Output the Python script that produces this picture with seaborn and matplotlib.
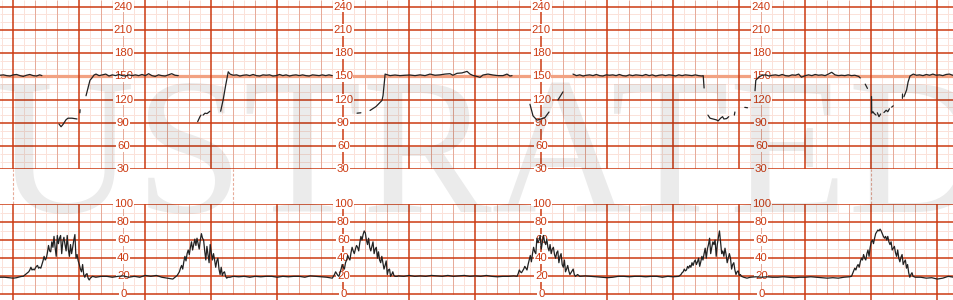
import numpy as np
import pandas as pd
import matplotlib
matplotlib.use("Agg")
import matplotlib.pyplot as plt
import seaborn as sns

# ---------------- data (time in seconds) ----------------
nan = np.nan
fhr_t = [-12, -9, -6, -3, 0, 3, 6, 9, 12, 15, 18, 21, 24, 26, nan,
         41.5, 43.4, 45.2, 47.9, 49.7, 53.4, 57.9, nan,
         60.5, 60.7, nan,
         66.1, 67.9, 69.7, 71.5, 73.4, 75.2, 78, 81, 84, 87, 90, 93, 96, 99, 102, 105, 108,
         111, 114, 117, 120, 123, 126, 129, 132, 135, 138, 141, 144, 147, 150, nan,
         167.6, 169.7, 170.6, nan,
         172.5, 174.3, 176.1, 178.8, nan,
         188.5, 190.8, 193, 195.4, 197, 200, 203, 206, 209, 212, 215, 218, 221, 224, 227, 230,
         233, 236, 239, 242, 245, 248, 251, 254, 257, 260, 263, 266, 269, 272, 275, 278, 281,
         284, 287, 290, nan,
         312.5, 316, nan,
         324.3, 329.7, 335.2, 336.1, 337.5, 338, 342.5, 347, 351.5, 356.1, 360.6, 365.2, 369.7,
         374.3, 378.8, 383.4, 387.9, 392.5, 397, 399.7, 403.4, 407.9, 412.5, 415.2, 417.9,
         421.5, 424.3, 427, 431.5, 436.1, 440.6, 445.2, 448.8, 451.5, 453.4, nan,
         469.7, 472.5, 476.1, 479.7, 483.4, 487, nan,
         495.2, 499.7, nan,
         508.8, 512, 515, 518, 521, 524, 527, 530, 533, 536, 539, 542, 545, 548, 551, 554, 557,
         560, 563, 566, 569, 572, 575, 578, 581, 584, 587, 590, 593, 596, 599, 602, 605, 608,
         611, 614, 617, 620, 623, 626, 627.2, 628, nan,
         631.5, 633.4, 636.1, 639.3, 640.8, 643, 644.8, 646, 648.5, 650.4, nan,
         655.5, 656, nan,
         665, 667.5, nan,
         674.3, 675, 678, 681, 684, 687, 690, 693, 696, 699, 702, 705, 708, 711, 714, 716.5,
         720, 723, 726, 729, 732, 735, 738, 741, 744, 747, 750, 753, 756, 759, 762, 765,
         768.5, 770, nan,
         774.5, 776.5, nan,
         780.2, 780.4, 781.5, 782.5, 784.3, nan,
         785.5, 787, 788.5, nan,
         791.5, 793.5, 795, 796.5, nan,
         798.5, 800, nan,
         808.3, 808.4, nan,
         809.7, 812.1, 813.5, 815.2, 818.2, 821, 824, 827, 830, 833, 836, 839, 842, 845, 848,
         851, 854, 856]
fhr_bpm = [151.5, 152, 151, 150.5, 152, 152.5, 151, 150, 151.5, 152.5, 151, 150.5, 152, 151, nan,
           88.5, 85, 88, 94, 96, 96, 95, nan,
           103, 107, nan,
           125, 135, 145, 148, 151.8, 153, 151, 152, 153, 150.5, 152, 151, 152.5, 151, 150.5, 152,
           151, 152, 151, 152.5, 151, 153.5, 151, 150, 152, 151, 150.5, 152, 153.5, 151.5, 151, nan,
           91.5, 98, 100, nan,
           100, 102.5, 102, 105, nan,
           105, 120, 138, 156, 153, 151.5, 152, 150.5, 151.5, 152, 151, 152.5, 151, 150.5, 152,
           151.5, 152, 150.5, 151, 152.5, 151, 152, 150.5, 151.5, 152, 151, 152, 151, 150.5, 152,
           151.5, 151, 152, 151, 152, 151, nan,
           102.5, 103, nan,
           106, 111, 119, 125, 145, 153, 151, 151.8, 151, 151.5, 151.8, 151, 152, 151, 153, 151.5,
           152, 153, 153.5, 151.5, 154, 154.5, 156.5, 153, 151.2, 150, 148.8, 151.8, 153, 151.8,
           151, 151, 153, 150.5, 151, nan,
           114, 99, 93.5, 95, 97, 104, nan,
           119.6, 130, nan,
           153, 151, 152, 150.5, 151.5, 152, 151, 152.5, 151, 150.5, 152, 151.5, 152, 151, 152.5,
           151, 150.5, 152, 151, 152, 151.5, 151, 152.5, 151, 152, 150.5, 151.5, 152, 151, 152,
           151.5, 150.5, 152, 151, 152, 151.5, 151, 152, 151, 150.5, 151, 135, nan,
           100, 96, 95, 93.8, 92.5, 96, 98, 95, 95.5, 98, nan,
           100, 104, nan,
           110, 109.5, nan,
           131.5, 145, 149.5, 151.5, 152, 150.5, 151.5, 152, 151, 152.5, 151, 150.5, 152, 151.5,
           153, 149, 151, 152, 151, 152.5, 151.5, 152, 151, 153, 155.3, 152, 151, 151.5, 151,
           152, 151, 151.5, 150, 148, nan,
           140, 134.5, nan,
           124, 102.5, 104.4, 102.3, 100.1, nan,
           103, 98, 101.5, nan,
           103.3, 106.3, 104.4, 108.2, nan,
           110.3, 112, nan,
           121.6, 127.3, nan,
           123.8, 132.4, 143, 150.5, 153, 151.5, 152, 151, 152.5, 151.5, 153, 151.5, 152, 151,
           152.5, 153, 151.5, 152]

toco_t = [-12, -8, -4, 0, 3, 6,
          8, 9, 10, 11, 12, 13, 14, 15, 16, 17, 18, 19, 20, 21, 22, 23, 24, 25, 26, 27, 28, 29,
          30, 31, 32, 33, 34, 35, 36, 37, 38, 39, 40, 41, 42, 43, 44, 45, 46, 47, 48, 49, 50,
          51, 52, 53, 54, 55, 56, 57, 58, 59, 60, 61, 62, 63, 64, 65, 66, 67, 68, 69, 70, 71, 72,
          75, 80, 85, 90, 95, 100, 105, 110, 115, 120, 125, 130, 135, 140, 145,
          146, 147, 148, 149, 150, 151, 152, 153, 154, 155, 156, 157, 158, 159, 160, 161, 162,
          163, 164, 165, 166, 167, 168, 169, 170, 171, 172, 173, 174, 175, 176, 177, 178, 179,
          180, 181, 182, 183, 184, 185, 186, 187, 188, 189, 190, 191, 192, 193, 194, 195, 197,
          200, 205, 210, 215, 220, 225, 230, 235, 240, 245, 250, 255, 260, 265, 270, 275, 280,
          285, 290,
          291, 292, 293, 294, 295, 296, 297, 298, 299, 300, 301, 302, 303, 304, 305, 306, 307,
          308, 309, 310, 311, 312, 313, 314, 315, 316, 317, 318, 319, 320, 321, 322, 323, 324,
          325, 326, 327, 328, 329, 330, 331, 332, 333, 334, 335, 336, 337, 338, 339, 340, 341,
          342, 343, 344, 345, 346, 347, 349,
          350, 355, 360, 365, 370, 375, 380, 385, 390, 395, 400, 405, 410, 415, 420, 425, 430,
          435, 440, 445, 450, 455,
          458, 459, 460, 461, 462, 463, 464, 465, 466, 467, 468, 469, 470, 471, 472, 473, 474,
          475, 476, 477, 478, 479, 480, 481, 482, 483, 484, 485, 486, 487, 488, 489, 490, 491,
          492, 493, 494, 495, 496, 497, 498, 499, 500, 501, 502, 503, 504, 505, 506, 507, 508,
          509, 510, 511, 512, 513, 515,
          520, 525, 530, 535, 540, 545, 550, 555, 560, 565, 570, 575, 580, 585, 590, 595, 600, 605,
          606, 607, 608, 609, 610, 611, 612, 613, 614, 615, 616, 617, 618, 619, 620, 621, 622,
          623, 624, 625, 626, 627, 628, 629, 630, 631, 632, 633, 634, 635, 636, 637, 638, 639,
          640, 641, 642, 643, 644, 645, 646, 647, 648, 649, 650, 651, 652, 653, 654, 655, 656,
          657, 658, 659, 660, 661, 662, 664, 667,
          670, 675, 680, 685, 690, 695, 700, 705, 710, 715, 720, 725, 730, 735, 740, 745, 750,
          755, 760,
          762, 763, 764, 765, 766, 767, 768, 769, 770, 771, 772, 773, 774, 775, 776, 777, 778,
          779, 780, 781, 782, 783, 784, 785, 786, 787, 788, 789, 790, 791, 792, 793, 794, 795,
          796, 797, 798, 799, 800, 801, 802, 803, 804, 805, 806, 807, 808, 809, 810, 811, 812,
          813, 814, 815, 816, 817, 818, 820,
          825, 830, 835, 840, 845, 850, 855]
toco_v = [19, 19, 18.5, 18, 18.5, 19.5,
          20, 20, 21, 22, 23, 24, 25, 27, 30, 27, 28, 27, 29, 31, 32, 29, 30, 29, 33, 37, 42, 38,
          40, 46, 54, 48, 47, 58, 52, 64, 52, 42, 65, 56, 62, 65, 45, 58, 63, 55, 48, 65, 50,
          42, 55, 45, 52, 60, 66, 40, 44, 37, 33, 28, 25, 33, 22, 19, 22, 23, 18, 16, 18, 19, 20,
          19, 20, 20, 19, 20, 20.5, 19, 20, 19, 21, 20, 21, 19, 18, 17,
          18, 19, 20, 21, 23, 25, 29, 32, 28, 36, 42, 37, 45, 49, 44, 52, 58,
          49, 55, 61, 54, 62, 56, 50, 60, 67, 62, 60, 48, 38, 53, 44, 35, 55,
          46, 38, 45, 38, 30, 37, 40, 28, 22, 30, 21, 24, 25, 20, 18, 19, 19,
          20, 19.5, 20, 19, 20, 19.5, 20, 20, 19, 20, 19.5, 20, 20, 19, 20.5, 20, 19.5,
          19, 18,
          20, 22, 25, 23, 21, 20, 24, 28, 33, 30, 28, 35, 38, 43, 40, 38, 46,
          52, 48, 45, 50, 54, 52, 48, 57, 64, 60, 66, 70, 68, 60, 55, 62, 52,
          48, 53, 58, 45, 50, 52, 40, 47, 38, 35, 42, 35, 28, 32, 37, 22, 27,
          28, 20, 22, 25, 21, 20, 20,
          20.5, 20, 21, 20, 20.5, 20, 21, 20.5, 20, 21, 20, 20.5, 21, 20, 20.5, 20, 21,
          20, 19.5, 20, 20, 20.5,
          20, 23, 27, 25, 24, 26, 28, 31, 29, 27, 33, 38, 43, 36, 45, 52, 47,
          45, 62, 57, 60, 65, 50, 58, 65, 58, 55, 61, 52, 48, 55, 45, 50, 52,
          44, 40, 46, 48, 35, 42, 45, 33, 30, 38, 25, 28, 32, 26, 22, 24, 26,
          28, 22, 20, 21, 22, 20,
          20.5, 20, 19.5, 19, 18.5, 19, 20, 20, 19.5, 20, 20, 19.5, 20, 20, 19, 20, 19.5, 20,
          21, 22, 24, 25, 28, 26, 27, 31, 29, 32, 30, 35, 32, 36, 38, 33, 36,
          40, 31, 36, 42, 38, 45, 51, 40, 50, 55, 62, 45, 52, 58, 55, 60, 42,
          55, 63, 70, 58, 45, 48, 42, 51, 44, 35, 40, 45, 40, 28, 33, 35, 27,
          22, 25, 26, 21, 22, 20, 19, 18,
          19, 19.5, 19, 19.5, 19, 19, 19.5, 19, 18.5, 19, 19, 19.5, 19, 18.5, 18, 18.5, 18,
          19, 19.5,
          20, 23, 26, 29, 27, 31, 33, 30, 36, 40, 38, 44, 40, 38, 45, 49, 42,
          52, 58, 60, 56, 62, 67, 69, 71, 70, 72, 70, 67, 64, 62, 64, 60, 64,
          58, 55, 58, 49, 51, 53, 46, 42, 49, 40, 36, 41, 44, 33, 36, 38, 29,
          33, 24, 19, 22, 24, 20, 19,
          19, 18, 18.5, 17, 18, 20, 19]

label_t = [100, 300, 480, 680]
fhr_labels = [30, 60, 90, 120, 150, 180, 210, 240]
toco_labels = [0, 20, 40, 60, 80, 100]
gap_marks_t = [0, 200, 780]
watermark = "ILLUSTRATED"

# ---------------- style ----------------
sns.set_theme(style="white")
plt.rcParams["font.family"] = ["Liberation Sans", "DejaVu Sans"]

DARK = "#cc3a12"
MED = "#e6ab9a"
LIGHT = "#fbe2da"
HL150 = "#f2a282"
TRACE = "#222222"

T0, T1 = -12.1, 855.2
FHR_LO, FHR_HI = 30, 248.7
TOCO_LO, TOCO_HI = -6.06, 100

fig = plt.figure(figsize=(9.54, 3.0), dpi=100)
fig.patch.set_facecolor("white")
fhr_rect = [0, 130.7 / 300, 1, 169.3 / 300]
toco_rect = [0, 0, 1, 96.3 / 300]
gap_rect = [0, 96.3 / 300, 1, 34.4 / 300]

ax_f = fig.add_axes(fhr_rect, zorder=0)
ax_t = fig.add_axes(toco_rect, zorder=0)
ax_g = fig.add_axes(gap_rect, zorder=0)
for ax in (ax_f, ax_t, ax_g):
    ax.set_axis_off()
    ax.set_xlim(T0, T1)
ax_f.set_ylim(FHR_LO, FHR_HI)
ax_t.set_ylim(TOCO_LO, TOCO_HI)
ax_g.set_ylim(0, 1)

vt = np.arange(-10, 860, 10)
v_major = vt[vt % 60 == 0]
v_med = vt[(vt % 20 == 0) & (vt % 60 != 0)]
v_light = vt[vt % 20 != 0]

LW_L, LW_M, LW_D = 0.72, 0.72, 1.1

# FHR grid
hf = np.arange(40, 250, 10)
ax_f.vlines(v_light, FHR_LO, FHR_HI, color=LIGHT, lw=LW_L, zorder=1)
ax_f.hlines(hf[hf % 30 != 0], T0, T1, color=LIGHT, lw=LW_L, zorder=1)
ax_f.vlines(v_med, FHR_LO, FHR_HI, color=MED, lw=LW_M, zorder=2)
ax_f.hlines([150], T0, T1, color=HL150, lw=2.3, zorder=2.5)
ax_f.hlines([v for v in fhr_labels if v != 150], T0, T1, color=DARK, lw=LW_D, zorder=3)
ax_f.vlines(v_major, FHR_LO, FHR_HI, color=DARK, lw=LW_D, zorder=3)

# toco grid
ht = np.arange(10, 100, 20)
ax_t.vlines(v_light, 0, TOCO_HI, color=LIGHT, lw=LW_L, zorder=1)
ax_t.hlines(ht, T0, T1, color=LIGHT, lw=LW_L, zorder=1)
ax_t.vlines(v_med, 0, TOCO_HI, color=MED, lw=LW_M, zorder=2)
ax_t.hlines(toco_labels, T0, T1, color=DARK, lw=LW_D, zorder=3)
ax_t.vlines(v_major, TOCO_LO, TOCO_HI, color=DARK, lw=LW_D, zorder=3)

# gap dashed marks
ax_g.vlines(gap_marks_t, 0, 1, color=MED, lw=0.8, linestyles=[(0, (2.6, 1.6))])

# labels
box = dict(facecolor="white", edgecolor="none", pad=0.5)
for t in label_t:
    for v in fhr_labels:
        ax_f.text(t, v, str(v), ha="center", va="center", fontsize=8.2, color=DARK,
                  bbox=box, zorder=5)
    for v in toco_labels:
        ax_t.text(t, v, str(v), ha="center", va="center", fontsize=8.2, color=DARK,
                  bbox=box, zorder=5)

# watermark
fig.text(-0.323, 0.2933, watermark, fontsize=140, family="Liberation Serif",
         color="black", alpha=0.08, ha="left", va="baseline", zorder=2)

# traces
fhr_df = pd.DataFrame({"t": fhr_t, "bpm": fhr_bpm})
fhr_df["seg"] = fhr_df["t"].isna().cumsum()
fhr_df = fhr_df.dropna()
toco_df = pd.DataFrame({"t": toco_t, "v": toco_v})

ax_f2 = fig.add_axes(fhr_rect, zorder=3)
ax_t2 = fig.add_axes(toco_rect, zorder=3)
sns.lineplot(data=fhr_df, x="t", y="bpm", units="seg", estimator=None, ax=ax_f2,
             color=TRACE, lw=0.9, sort=False)
sns.lineplot(data=toco_df, x="t", y="v", estimator=None, ax=ax_t2,
             color=TRACE, lw=0.9, sort=False)
for ax, lo, hi in ((ax_f2, FHR_LO, FHR_HI), (ax_t2, TOCO_LO, TOCO_HI)):
    ax.set_xlim(T0, T1)
    ax.set_ylim(lo, hi)
    ax.set_axis_off()
    ax.patch.set_visible(False)

fig.savefig("out.png", dpi=100, facecolor="white")
